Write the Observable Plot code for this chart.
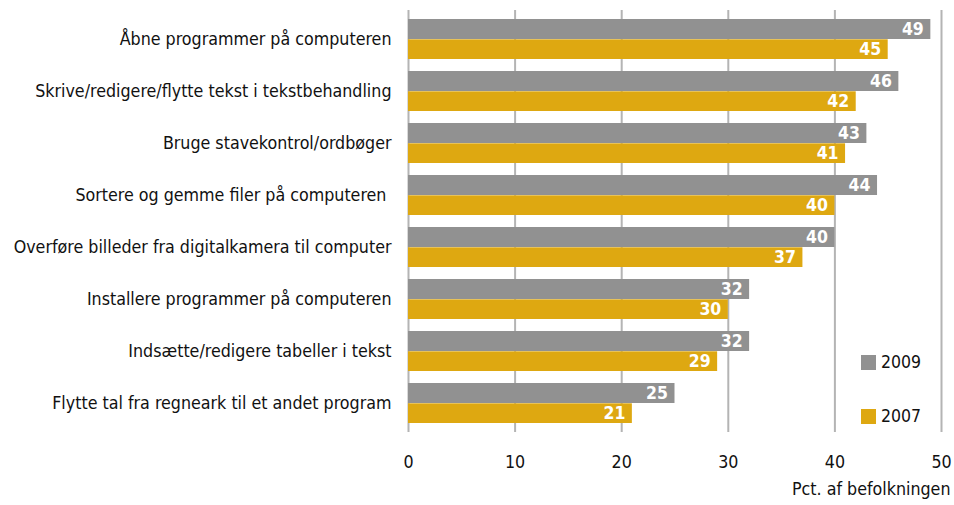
<!DOCTYPE html>
<html><head><meta charset="utf-8">
<script src="https://cdn.jsdelivr.net/npm/d3@7"></script>
<script src="https://cdn.jsdelivr.net/npm/@observablehq/plot@0.6"></script>
<style>
body{margin:0;background:#fff;}
#wrap{position:relative;width:954px;height:505px;font-family:"DejaVu Sans Condensed","DejaVu Sans",sans-serif;}
.legend{position:absolute;left:861px;font-size:17.5px;color:#111;display:flex;align-items:center;}
.legend span.sw{display:inline-block;width:15px;height:15px;margin-right:5px;}
</style></head>
<body><div id="wrap"></div>
<script>
const categories = ["Åbne programmer på computeren","Skrive/redigere/flytte tekst i tekstbehandling","Bruge stavekontrol/ordbøger","Sortere og gemme filer på computeren\u00a0","Overføre billeder fra digitalkamera til computer","Installere programmer på computeren","Indsætte/redigere tabeller i tekst","Flytte tal fra regneark til et andet program"];
const v2009 = [49,46,43,44,40,32,32,25];
const v2007 = [45,42,41,40,37,30,29,21];
const xTicks = [0,10,20,30,40,50];
const series = ["2009","2007"];
const colors = {"2009":"#919191","2007":"#dea811"};

const d09 = categories.map((c,i)=>({cat:c, value:v2009[i]}));
const d07 = categories.map((c,i)=>({cat:c, value:v2007[i]}));

const chart = Plot.plot({
  width: 954, height: 505,
  marginTop: 10, marginBottom: 73, marginLeft: 408, marginRight: 13,
  style: {fontFamily: '"DejaVu Sans Condensed","DejaVu Sans",sans-serif', fontSize: "17.7px", color: "#111", background: "#fff"},
  x: {domain: [0,50], ticks: xTicks, tickSize: 0, tickPadding: 23, label: null},
  y: {domain: categories, paddingInner: 0.23, paddingOuter: 0.15, tickSize: 0, tickPadding: 17, label: null},
  marks: [
    Plot.ruleX(xTicks, {stroke: "#b4b4b4", strokeWidth: 2}),
    Plot.barX(d09, {x: "value", y: "cat", fill: colors["2009"], insetBottom: 20}),
    Plot.barX(d07, {x: "value", y: "cat", fill: colors["2007"], insetTop: 20.3}),
    Plot.text(d09, {x: "value", y: "cat", text: d=>String(d.value), textAnchor: "end", dx: -7, dy: -10, fill: "white", fontWeight: "bold", fontSize: 17.5}),
    Plot.text(d07, {x: "value", y: "cat", text: d=>String(d.value), textAnchor: "end", dx: -7, dy: 10, fill: "white", fontWeight: "bold", fontSize: 17.5}),
    Plot.text(["Pct. af befolkningen"], {frameAnchor: "bottom-right", textAnchor: "end", dx: 9, dy: 62, fill: "#111", fontSize: 17.7})
  ]
});
const wrap = document.getElementById("wrap");
wrap.appendChild(chart);
const tops = {"2009": 352, "2007": 406};
for (const s of series) {
  const el = document.createElement("div");
  el.className = "legend";
  el.style.top = tops[s] + "px";
  el.innerHTML = `<span class="sw" style="background:${colors[s]}"></span>${s}`;
  wrap.appendChild(el);
}
</script></body></html>
